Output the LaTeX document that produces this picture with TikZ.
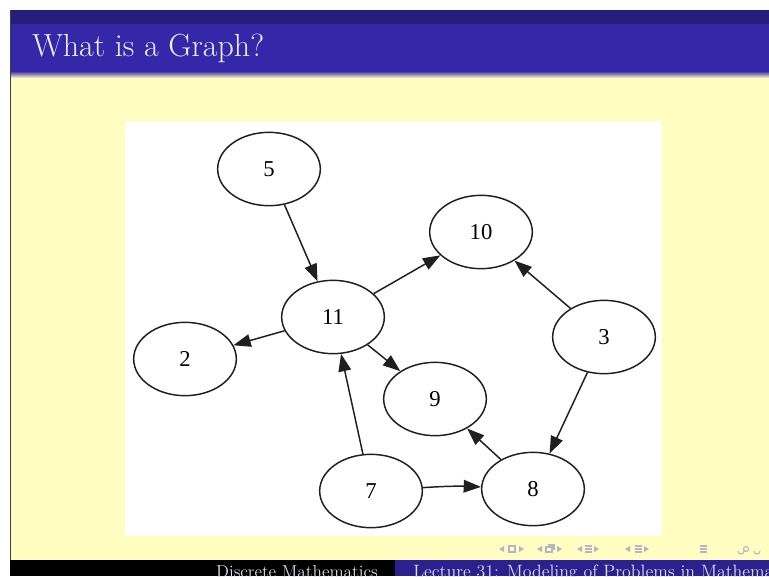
\documentclass[tikz,border=0pt]{standalone}
\usepackage{fontspec}
\usetikzlibrary{arrows.meta,shapes.geometric}
\newfontfamily\graphfont{Liberation Serif}
\definecolor{topnavy}{RGB}{38,30,126}
\definecolor{titleblue}{RGB}{52,40,168}
\definecolor{slideyellow}{RGB}{255,253,192}
\definecolor{footblue}{RGB}{42,32,142}
\definecolor{navgray}{RGB}{180,180,205}
\definecolor{titletext}{RGB}{238,238,250}
\definecolor{foottext}{RGB}{225,225,232}
\begin{document}
\begin{tikzpicture}[x=0.75pt,y=-0.75pt,
  vertex/.style={ellipse,draw=black!88,line width=1.1pt,minimum width=77pt,minimum height=55pt,inner sep=0pt,fill=white,font=\graphfont\fontsize{17}{17}\selectfont},
  edge/.style={draw=black!88,line width=1.1pt,-{Triangle[length=13pt,width=9.5pt]}},
  navsym/.style={fill=navgray,draw=none},
  navline/.style={draw=navgray,line width=0.8pt}]
\useasboundingbox (0,0) rectangle (769,576);
\clip (0,0) rectangle (769,576);
% slide background
\fill[white] (0,0) rectangle (769,576);
\fill[slideyellow] (10,10) rectangle (769,576);
\fill[topnavy] (10,10) rectangle (769,24);
\fill[titleblue] (10,24) rectangle (769,71);
\shade[top color=titleblue, bottom color=slideyellow] (10,71) rectangle (769,78);
\draw[black!75, line width=1pt] (10.7,10) -- (10.7,576);
\node[anchor=base west, text=titletext, font=\fontsize{24}{24}\selectfont, inner sep=0pt] (title) at (32,56) {What is a Graph?};
% white panel
\fill[white] (125,121) rectangle (662,536);
% nodes
\node[vertex] (n5) at (269,169) {5};
\node[vertex] (n10) at (481,232) {10};
\node[vertex] (n11) at (333,317) {11};
\node[vertex] (n2) at (185,359) {2};
\node[vertex] (n3) at (604,337) {3};
\node[vertex] (n9) at (435,399) {9};
\node[vertex] (n7) at (371,491) {7};
\node[vertex] (n8) at (533,489) {8};
% edges
\draw[edge] (n5) -- (n11);
\draw[edge] (n11) -- (n10);
\draw[edge] (n11) -- (n2);
\draw[edge] (n11) -- (n9);
\draw[edge] (n7) -- (n11);
\draw[edge] (n7) to[bend left=3] (n8);
\draw[edge] (n8) -- (n9);
\draw[edge] (n3) -- (n10);
\draw[edge] (n3) -- (n8);
% navigation symbols
\fill[navsym] (499,549) -- (504,546) -- (504,552) -- cycle;
\draw[navline] (509,546) rectangle (515,552);
\fill[navsym] (519,546) -- (524,549) -- (519,552) -- cycle;
\fill[navsym] (537,549) -- (542,546) -- (542,552) -- cycle;
\draw[navline] (546,547) rectangle (552,552) (548,545) -- (554,545) -- (554,550);
\fill[navsym] (557,546) -- (562,549) -- (557,552) -- cycle;
\fill[navsym] (577,549) -- (582,546) -- (582,552) -- cycle;
\draw[navline] (585,546) -- (592,546) (585,549) -- (592,549) (585,552) -- (592,552);
\fill[navsym] (594,546) -- (599,549) -- (594,552) -- cycle;
\fill[navsym] (625,549) -- (630,546) -- (630,552) -- cycle;
\draw[navline] (635,546) -- (642,546) (635,549) -- (642,549) (635,552) -- (642,552);
\fill[navsym] (644,546) -- (649,549) -- (644,552) -- cycle;
\draw[navline] (700,546) -- (707,546) (700,549) -- (707,549) (700,552) -- (707,552);
\draw[navline] (738,551) arc (180:0:3) (746,549) circle (2.5) (754,551) arc (180:0:3);
% footer
\fill[black] (10,560) rectangle (395,576);
\fill[footblue] (395,560) rectangle (769,576);
\node[anchor=base east, text=foottext, font=\fontsize{13}{13}\selectfont, inner sep=0pt] (foot1) at (378,577) {Discrete Mathematics};
\node[anchor=base west, text=foottext, font=\fontsize{13.4}{13.4}\selectfont, inner sep=0pt] (foot2) at (413,577) {Lecture 31: Modeling of Problems in Mathematics};
\end{tikzpicture}
\end{document}
